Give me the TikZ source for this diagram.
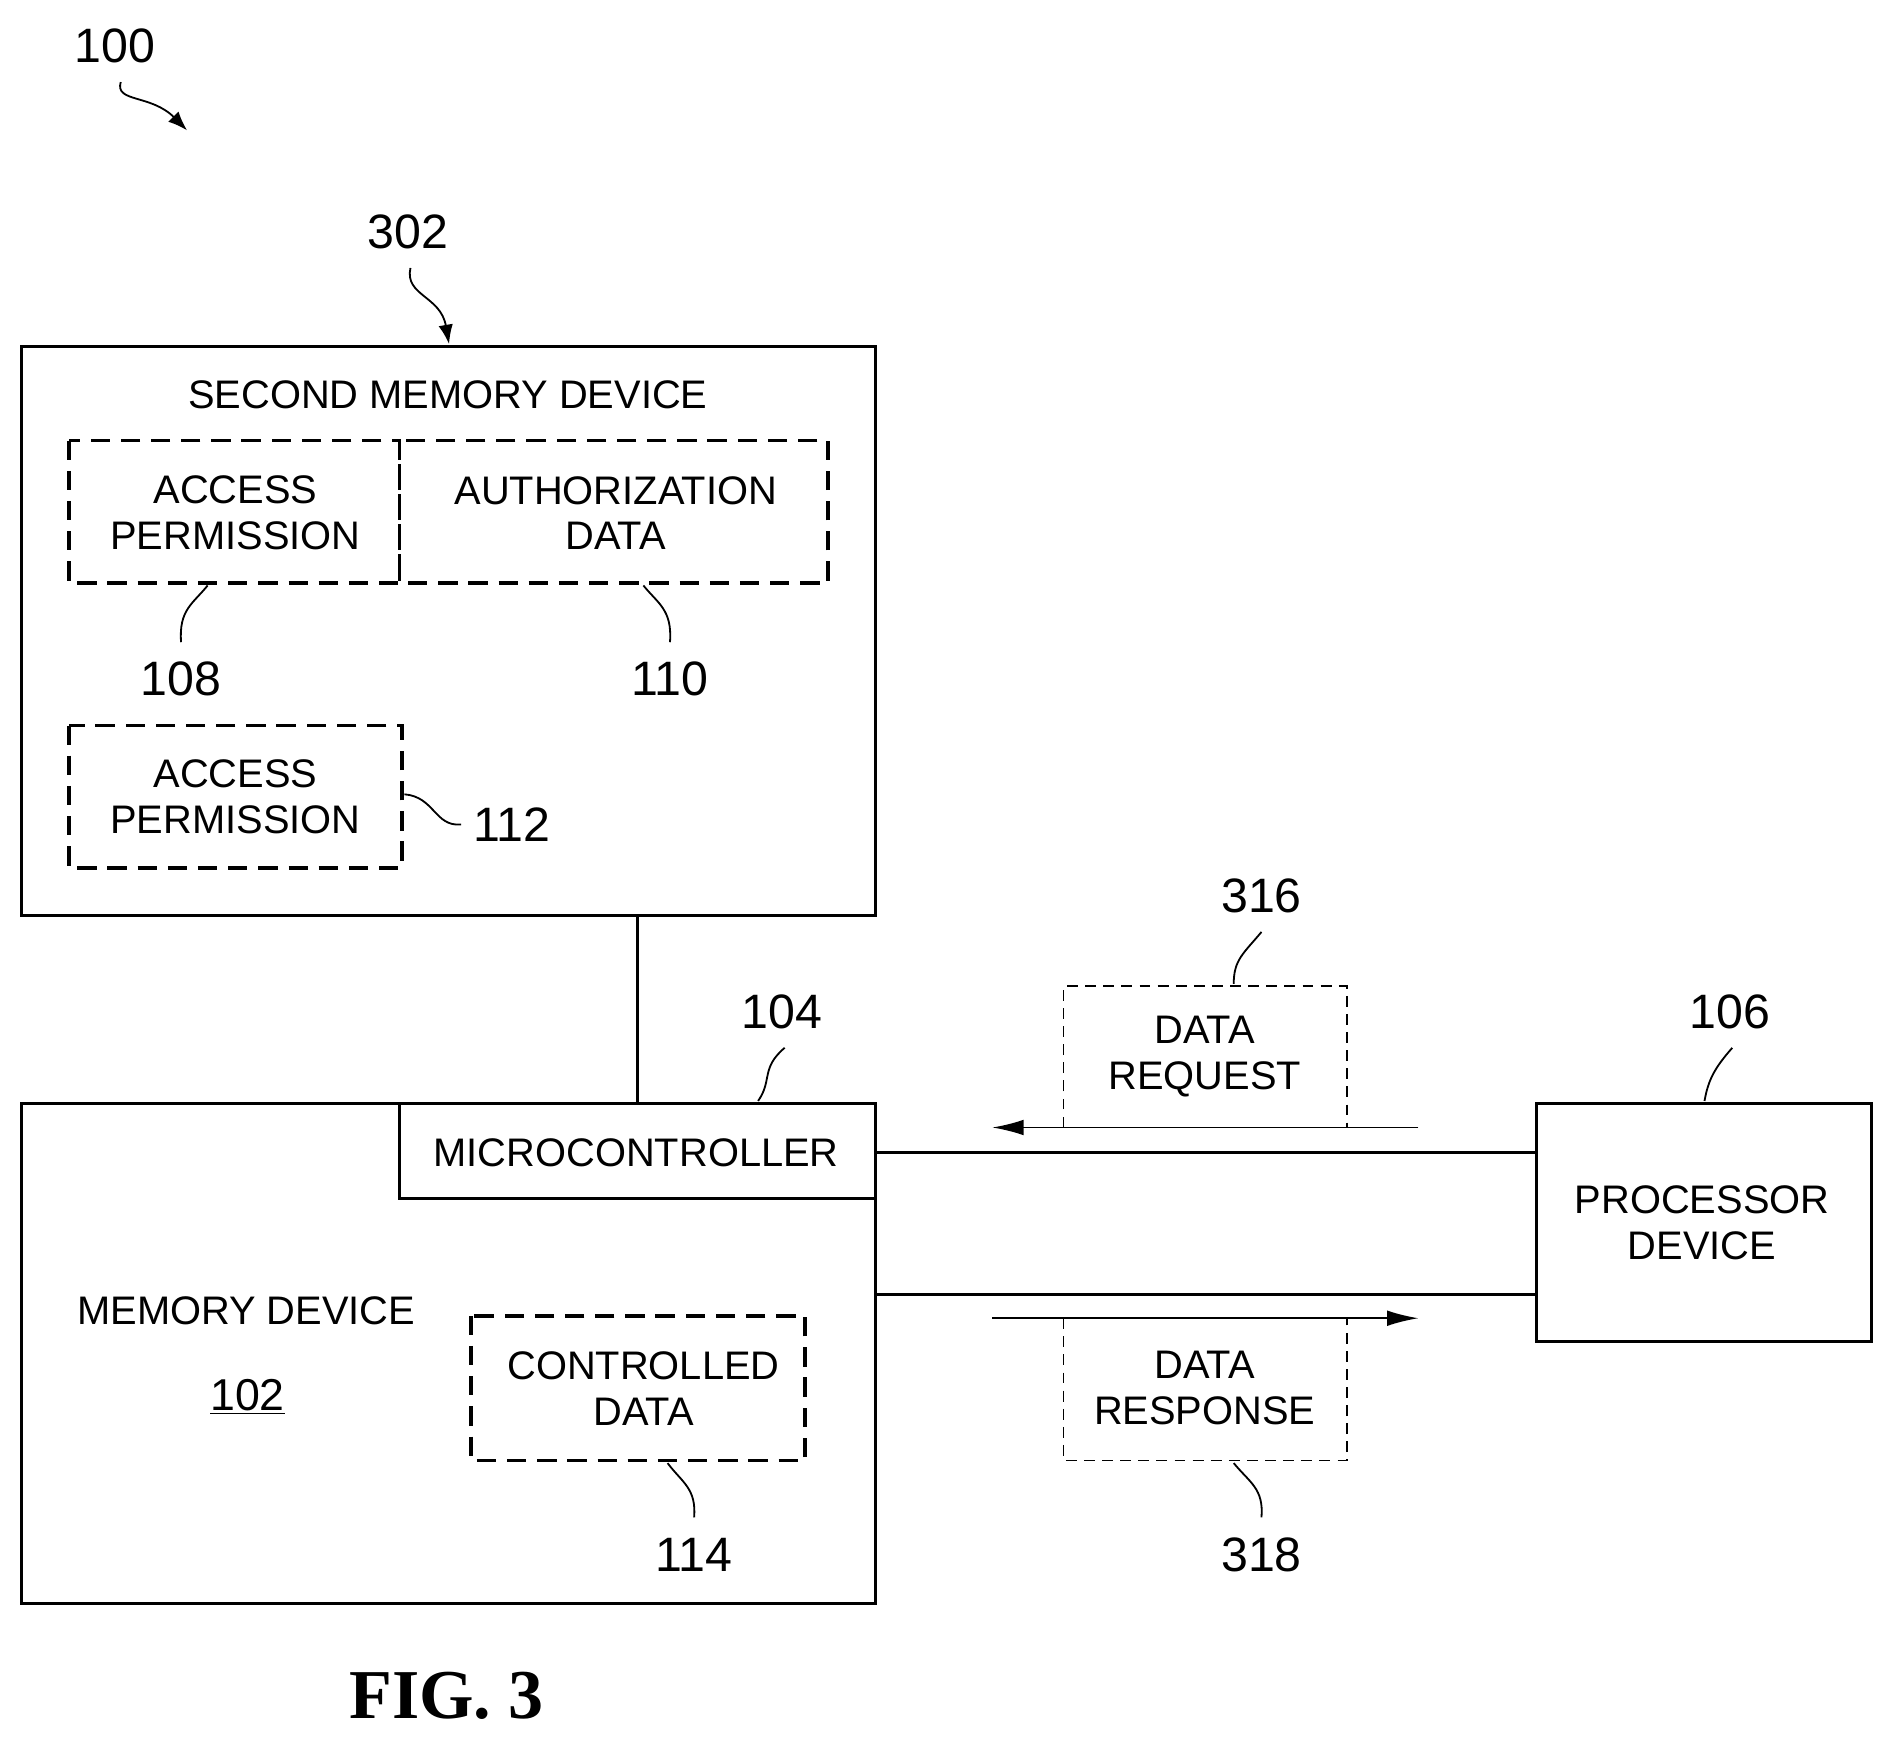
\documentclass[tikz,border=0pt]{standalone}
\usepackage{fontspec}
\usetikzlibrary{arrows.meta}
\setmainfont{Liberation Sans}
\newfontfamily\figfont{Liberation Serif}
\begin{document}
\begin{tikzpicture}[x=1pt,y=-1pt,
 box/.style={draw,line width=2.5pt},
 dbox/.style={draw,line width=3pt,dash pattern=on 16pt off 9pt},
 tbox/.style={draw,line width=1.3pt,dash pattern=on 9pt off 6pt},
 lbl/.style={font=\fontsize{33}{38}\selectfont,align=center,inner sep=0pt},
 num/.style={font=\fontsize{40}{44}\selectfont,inner sep=0pt},
 lead/.style={line width=1.5pt},
 ln/.style={line width=2.5pt}]
\useasboundingbox (0,0) rectangle (1564,1439);
\node[num] (n100) at (95,38) {100};
\draw[lead,-{Latex[length=16pt,width=12pt]}] (100,68) .. controls (95,85) and (125,78) .. (155,108);
\node[num] (n302) at (338,192) {302};
\draw[lead,-{Latex[length=16pt,width=12pt]}] (340,222) .. controls (335,245) and (365,245) .. (372,285);
\draw[box] (18,287) rectangle (725,758);
\node[lbl] (t2) at (371,327) {SECOND MEMORY DEVICE};
\draw[dbox] (57,365) rectangle (331,483);
\draw[dbox] (331,365) rectangle (686,483);
\node[lbl] (ap1) at (195,425) {ACCESS\\PERMISSION};
\node[lbl] (ad) at (510,425) {AUTHORIZATION\\DATA};
\node[num] (n108) at (150,562) {108};
\draw[lead] (172,485) .. controls (160,500) and (148,505) .. (150,532);
\node[num] (n110) at (555,562) {110};
\draw[lead] (533,485) .. controls (545,500) and (557,505) .. (555,532);
\draw[dbox] (57,601) rectangle (333,719);
\node[lbl] (ap2) at (195,660) {ACCESS\\PERMISSION};
\node[num,anchor=west] (n112) at (392,683) {112};
\draw[lead] (335,658) .. controls (360,660) and (360,685) .. (382,683);
\draw[ln] (528,758) -- (528,914);
\draw[box] (18,914) rectangle (725,1328);
\draw[box] (331,914) rectangle (725,993);
\node[lbl] (mc) at (527,955) {MICROCONTROLLER};
\node[num] (n104) at (648,838) {104};
\draw[lead] (650,868) .. controls (630,885) and (640,895) .. (628,912);
\node[lbl] (md) at (204,1086) {MEMORY DEVICE};
\node[num,font=\fontsize{37}{40}\selectfont] (n102) at (205,1157) {\underline{102}};
\draw[dbox] (390,1090) rectangle (667,1210);
\node[lbl] (cd) at (533,1150) {CONTROLLED\\DATA};
\node[num] (n114) at (575,1288) {114};
\draw[lead] (553,1212) .. controls (565,1228) and (577,1233) .. (575,1257);
\draw[box] (1273,914) rectangle (1550,1111);
\node[lbl] (pd) at (1410,1013) {PROCESSOR\\DEVICE};
\node[num] (n106) at (1433,838) {106};
\draw[lead] (1435,868) .. controls (1420,885) and (1415,895) .. (1412,912);
\draw[ln] (725,955) -- (1273,955);
\draw[ln] (725,1072) -- (1273,1072);
\draw[tbox] (881,934) -- (881,817) -- (1116,817) -- (1116,934);
\draw[lead,-{Latex[length=26pt,width=13pt]}] (1175,934) -- (822,934);
\node[lbl] (dr) at (998,875) {DATA\\REQUEST};
\node[num] (n316) at (1045,742) {316};
\draw[lead] (1045,772) .. controls (1030,790) and (1022,795) .. (1022,815);
\draw[tbox] (881,1092) -- (881,1210) -- (1116,1210) -- (1116,1092);
\draw[lead,-{Latex[length=26pt,width=13pt]}] (822,1092) -- (1175,1092);
\node[lbl] (dresp) at (998,1150) {DATA\\RESPONSE};
\node[num] (n318) at (1045,1288) {318};
\draw[lead] (1022,1212) .. controls (1035,1228) and (1047,1233) .. (1045,1257);
\node[font=\figfont\bfseries\fontsize{58}{60}\selectfont] (fig) at (370,1405) {FIG. 3};
\end{tikzpicture}
\end{document}
